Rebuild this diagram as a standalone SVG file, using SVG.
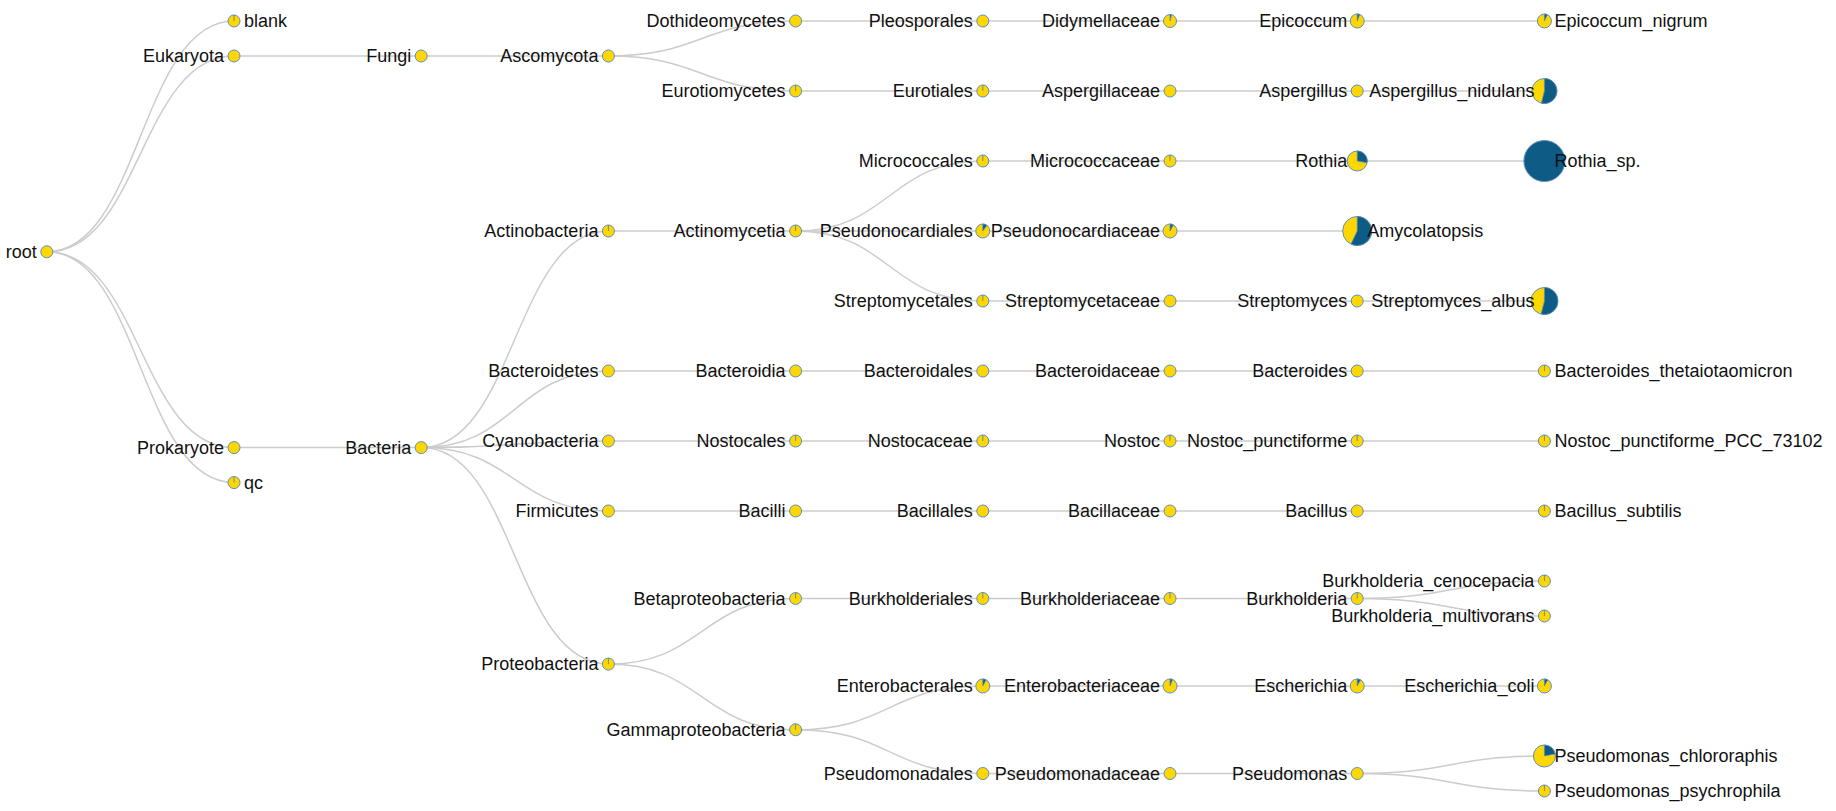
<svg xmlns="http://www.w3.org/2000/svg" width="1836" height="811" viewBox="0 0 1836 811">
<style>
.link{fill:none;stroke:#cccccc;stroke-width:1.5}
.node circle{fill:#FFD700;stroke:#5f8fb9;stroke-width:1}
.node circle.full{fill:#0E5B85}
.slice{fill:#0E5B85;stroke:#5f8fb9;stroke-width:0.8}
.tick{fill:none;stroke:#4a7fae;stroke-width:0.8}
text{font-family:"Liberation Sans",Arial,sans-serif;font-size:18px;fill:#111}
text.l{text-anchor:end}
text.r{text-anchor:start}
</style>
<rect width="1836" height="811" fill="#ffffff"/>
<g id="links">
<path class="link" d="M46.8,251.8C140.4,251.8 140.4,21 234,21"/>
<path class="link" d="M46.8,251.8C140.4,251.8 140.4,56 234,56"/>
<path class="link" d="M46.8,251.8C140.4,251.8 140.4,447.6 234,447.6"/>
<path class="link" d="M46.8,251.8C140.4,251.8 140.4,482.6 234,482.6"/>
<path class="link" d="M234,56H421.2"/>
<path class="link" d="M421.2,56H608.4"/>
<path class="link" d="M608.4,56C702,56 702,21 795.6,21"/>
<path class="link" d="M608.4,56C702,56 702,91 795.6,91"/>
<path class="link" d="M795.6,21H982.8"/>
<path class="link" d="M982.8,21H1170"/>
<path class="link" d="M1170,21H1357.2"/>
<path class="link" d="M1357.2,21H1544.4"/>
<path class="link" d="M795.6,91H982.8"/>
<path class="link" d="M982.8,91H1170"/>
<path class="link" d="M1170,91H1357.2"/>
<path class="link" d="M1357.2,91H1544.4"/>
<path class="link" d="M234,447.6H421.2"/>
<path class="link" d="M421.2,447.6C514.8,447.6 514.8,231 608.4,231"/>
<path class="link" d="M421.2,447.6C514.8,447.6 514.8,371 608.4,371"/>
<path class="link" d="M421.2,447.6C514.8,447.6 514.8,441 608.4,441"/>
<path class="link" d="M421.2,447.6C514.8,447.6 514.8,511 608.4,511"/>
<path class="link" d="M421.2,447.6C514.8,447.6 514.8,664.1 608.4,664.1"/>
<path class="link" d="M608.4,231H795.6"/>
<path class="link" d="M795.6,231C889.2,231 889.2,161 982.8,161"/>
<path class="link" d="M795.6,231H982.8"/>
<path class="link" d="M795.6,231C889.2,231 889.2,301 982.8,301"/>
<path class="link" d="M982.8,161H1170"/>
<path class="link" d="M1170,161H1357.2"/>
<path class="link" d="M1357.2,161H1544.4"/>
<path class="link" d="M982.8,231H1170"/>
<path class="link" d="M1170,231H1357.2"/>
<path class="link" d="M982.8,301H1170"/>
<path class="link" d="M1170,301H1357.2"/>
<path class="link" d="M1357.2,301H1544.4"/>
<path class="link" d="M608.4,371H795.6"/>
<path class="link" d="M795.6,371H982.8"/>
<path class="link" d="M982.8,371H1170"/>
<path class="link" d="M1170,371H1357.2"/>
<path class="link" d="M1357.2,371H1544.4"/>
<path class="link" d="M608.4,441H795.6"/>
<path class="link" d="M795.6,441H982.8"/>
<path class="link" d="M982.8,441H1170"/>
<path class="link" d="M1170,441H1357.2"/>
<path class="link" d="M1357.2,441H1544.4"/>
<path class="link" d="M608.4,511H795.6"/>
<path class="link" d="M795.6,511H982.8"/>
<path class="link" d="M982.8,511H1170"/>
<path class="link" d="M1170,511H1357.2"/>
<path class="link" d="M1357.2,511H1544.4"/>
<path class="link" d="M608.4,664.1C702,664.1 702,598.5 795.6,598.5"/>
<path class="link" d="M608.4,664.1C702,664.1 702,729.75 795.6,729.75"/>
<path class="link" d="M795.6,598.5H982.8"/>
<path class="link" d="M982.8,598.5H1170"/>
<path class="link" d="M1170,598.5H1357.2"/>
<path class="link" d="M1357.2,598.5C1450.8,598.5 1450.8,581 1544.4,581"/>
<path class="link" d="M1357.2,598.5C1450.8,598.5 1450.8,616 1544.4,616"/>
<path class="link" d="M795.6,729.75C889.2,729.75 889.2,686 982.8,686"/>
<path class="link" d="M795.6,729.75C889.2,729.75 889.2,773.5 982.8,773.5"/>
<path class="link" d="M982.8,686H1170"/>
<path class="link" d="M1170,686H1357.2"/>
<path class="link" d="M1357.2,686H1544.4"/>
<path class="link" d="M982.8,773.5H1170"/>
<path class="link" d="M1170,773.5H1357.2"/>
<path class="link" d="M1357.2,773.5C1450.8,773.5 1450.8,756 1544.4,756"/>
<path class="link" d="M1357.2,773.5C1450.8,773.5 1450.8,791 1544.4,791"/>
</g>
<g id="nodes">
<g id="n-root" class="node" transform="translate(46.8,251.8)"><circle r="6"/><text class="l" x="-10" y="6">root</text></g>
<g id="n-blank" class="node" transform="translate(234,21)"><circle r="6"/><path class="tick" d="M0,0V-6"/><text class="r" x="10" y="6">blank</text></g>
<g id="n-Eukaryota" class="node" transform="translate(234,56)"><circle r="6"/><text class="l" x="-10" y="6">Eukaryota</text></g>
<g id="n-Prokaryote" class="node" transform="translate(234,447.6)"><circle r="6"/><text class="l" x="-10" y="6">Prokaryote</text></g>
<g id="n-qc" class="node" transform="translate(234,482.6)"><circle r="6"/><path class="tick" d="M0,0V-6"/><text class="r" x="10" y="6">qc</text></g>
<g id="n-Fungi" class="node" transform="translate(421.2,56)"><circle r="6"/><text class="l" x="-10" y="6">Fungi</text></g>
<g id="n-Bacteria" class="node" transform="translate(421.2,447.6)"><circle r="6"/><text class="l" x="-10" y="6">Bacteria</text></g>
<g id="n-Ascomycota" class="node" transform="translate(608.4,56)"><circle r="6"/><text class="l" x="-10" y="6">Ascomycota</text></g>
<g id="n-Actinobacteria" class="node" transform="translate(608.4,231)"><circle r="6"/><path class="tick" d="M0,0V-6"/><text class="l" x="-10" y="6">Actinobacteria</text></g>
<g id="n-Bacteroidetes" class="node" transform="translate(608.4,371)"><circle r="6"/><text class="l" x="-10" y="6">Bacteroidetes</text></g>
<g id="n-Cyanobacteria" class="node" transform="translate(608.4,441)"><circle r="6"/><text class="l" x="-10" y="6">Cyanobacteria</text></g>
<g id="n-Firmicutes" class="node" transform="translate(608.4,511)"><circle r="6"/><text class="l" x="-10" y="6">Firmicutes</text></g>
<g id="n-Proteobacteria" class="node" transform="translate(608.4,664.1)"><circle r="6"/><path class="tick" d="M0,0V-6"/><text class="l" x="-10" y="6">Proteobacteria</text></g>
<g id="n-Dothideomycetes" class="node" transform="translate(795.6,21)"><circle r="6"/><text class="l" x="-10" y="6">Dothideomycetes</text></g>
<g id="n-Eurotiomycetes" class="node" transform="translate(795.6,91)"><circle r="6"/><path class="tick" d="M0,0V-6"/><text class="l" x="-10" y="6">Eurotiomycetes</text></g>
<g id="n-Actinomycetia" class="node" transform="translate(795.6,231)"><circle r="6"/><path class="tick" d="M0,0V-6"/><text class="l" x="-10" y="6">Actinomycetia</text></g>
<g id="n-Bacteroidia" class="node" transform="translate(795.6,371)"><circle r="6"/><text class="l" x="-10" y="6">Bacteroidia</text></g>
<g id="n-Nostocales" class="node" transform="translate(795.6,441)"><circle r="6"/><path class="tick" d="M0,0V-6"/><text class="l" x="-10" y="6">Nostocales</text></g>
<g id="n-Bacilli" class="node" transform="translate(795.6,511)"><circle r="6"/><text class="l" x="-10" y="6">Bacilli</text></g>
<g id="n-Betaproteobacteria" class="node" transform="translate(795.6,598.5)"><circle r="6"/><path class="tick" d="M0,0V-6"/><text class="l" x="-10" y="6">Betaproteobacteria</text></g>
<g id="n-Gammaproteobacteria" class="node" transform="translate(795.6,729.75)"><circle r="6"/><path class="tick" d="M0,0V-6"/><text class="l" x="-10" y="6">Gammaproteobacteria</text></g>
<g id="n-Pleosporales" class="node" transform="translate(982.8,21)"><circle r="6"/><text class="l" x="-10" y="6">Pleosporales</text></g>
<g id="n-Eurotiales" class="node" transform="translate(982.8,91)"><circle r="6"/><path class="tick" d="M0,0V-6"/><text class="l" x="-10" y="6">Eurotiales</text></g>
<g id="n-Micrococcales" class="node" transform="translate(982.8,161)"><circle r="6"/><path class="tick" d="M0,0V-6"/><text class="l" x="-10" y="6">Micrococcales</text></g>
<g id="n-Pseudonocardiales" class="node" transform="translate(982.8,231)"><circle r="7"/><path class="slice" d="M0,0V-7A7,7 0 0 1 4.12,-5.66Z"/><text class="l" x="-10" y="6">Pseudonocardiales</text></g>
<g id="n-Streptomycetales" class="node" transform="translate(982.8,301)"><circle r="6"/><path class="tick" d="M0,0V-6"/><text class="l" x="-10" y="6">Streptomycetales</text></g>
<g id="n-Bacteroidales" class="node" transform="translate(982.8,371)"><circle r="6"/><text class="l" x="-10" y="6">Bacteroidales</text></g>
<g id="n-Nostocaceae" class="node" transform="translate(982.8,441)"><circle r="6"/><path class="tick" d="M0,0V-6"/><text class="l" x="-10" y="6">Nostocaceae</text></g>
<g id="n-Bacillales" class="node" transform="translate(982.8,511)"><circle r="6"/><text class="l" x="-10" y="6">Bacillales</text></g>
<g id="n-Burkholderiales" class="node" transform="translate(982.8,598.5)"><circle r="6"/><path class="tick" d="M0,0V-6"/><text class="l" x="-10" y="6">Burkholderiales</text></g>
<g id="n-Enterobacterales" class="node" transform="translate(982.8,686)"><circle r="7"/><path class="slice" d="M0,0V-7A7,7 0 0 1 3.37,-6.13Z"/><text class="l" x="-10" y="6">Enterobacterales</text></g>
<g id="n-Pseudomonadales" class="node" transform="translate(982.8,773.5)"><circle r="6"/><text class="l" x="-10" y="6">Pseudomonadales</text></g>
<g id="n-Didymellaceae" class="node" transform="translate(1170,21)"><circle r="6.5"/><path class="slice" d="M0,0V-6.5A6.5,6.5 0 0 1 1.62,-6.3Z"/><text class="l" x="-10" y="6">Didymellaceae</text></g>
<g id="n-Aspergillaceae" class="node" transform="translate(1170,91)"><circle r="6"/><text class="l" x="-10" y="6">Aspergillaceae</text></g>
<g id="n-Micrococcaceae" class="node" transform="translate(1170,161)"><circle r="6"/><path class="tick" d="M0,0V-6"/><text class="l" x="-10" y="6">Micrococcaceae</text></g>
<g id="n-Pseudonocardiaceae" class="node" transform="translate(1170,231)"><circle r="7"/><path class="slice" d="M0,0V-7A7,7 0 0 1 3.37,-6.13Z"/><text class="l" x="-10" y="6">Pseudonocardiaceae</text></g>
<g id="n-Streptomycetaceae" class="node" transform="translate(1170,301)"><circle r="6"/><text class="l" x="-10" y="6">Streptomycetaceae</text></g>
<g id="n-Bacteroidaceae" class="node" transform="translate(1170,371)"><circle r="6"/><text class="l" x="-10" y="6">Bacteroidaceae</text></g>
<g id="n-Nostoc" class="node" transform="translate(1170,441)"><circle r="6"/><path class="tick" d="M0,0V-6"/><text class="l" x="-10" y="6">Nostoc</text></g>
<g id="n-Bacillaceae" class="node" transform="translate(1170,511)"><circle r="6"/><text class="l" x="-10" y="6">Bacillaceae</text></g>
<g id="n-Burkholderiaceae" class="node" transform="translate(1170,598.5)"><circle r="6"/><path class="tick" d="M0,0V-6"/><text class="l" x="-10" y="6">Burkholderiaceae</text></g>
<g id="n-Enterobacteriaceae" class="node" transform="translate(1170,686)"><circle r="7"/><path class="slice" d="M0,0V-7A7,7 0 0 1 2.58,-6.51Z"/><text class="l" x="-10" y="6">Enterobacteriaceae</text></g>
<g id="n-Pseudomonadaceae" class="node" transform="translate(1170,773.5)"><circle r="6"/><text class="l" x="-10" y="6">Pseudomonadaceae</text></g>
<g id="n-Epicoccum" class="node" transform="translate(1357.2,21)"><circle r="7"/><path class="slice" d="M0,0V-7A7,7 0 0 1 2.58,-6.51Z"/><text class="l" x="-10" y="6">Epicoccum</text></g>
<g id="n-Aspergillus" class="node" transform="translate(1357.2,91)"><circle r="6"/><text class="l" x="-10" y="6">Aspergillus</text></g>
<g id="n-Rothia" class="node" transform="translate(1357.2,161)"><circle r="10"/><path class="slice" d="M0,0V-10A10,10 0 0 1 9.82,1.87Z"/><text class="l" x="-10" y="6">Rothia</text></g>
<g id="n-Amycolatopsis" class="node" transform="translate(1357.2,231)"><circle r="14.5"/><path class="slice" d="M0,0V-14.5A14.5,14.5 0 1 1 -6.17,13.12Z"/><text class="r" x="10" y="6">Amycolatopsis</text></g>
<g id="n-Streptomyces" class="node" transform="translate(1357.2,301)"><circle r="6"/><text class="l" x="-10" y="6">Streptomyces</text></g>
<g id="n-Bacteroides" class="node" transform="translate(1357.2,371)"><circle r="6"/><text class="l" x="-10" y="6">Bacteroides</text></g>
<g id="n-Nostoc_punctiforme" class="node" transform="translate(1357.2,441)"><circle r="6"/><path class="tick" d="M0,0V-6"/><text class="l" x="-10" y="6">Nostoc_punctiforme</text></g>
<g id="n-Bacillus" class="node" transform="translate(1357.2,511)"><circle r="6"/><text class="l" x="-10" y="6">Bacillus</text></g>
<g id="n-Burkholderia" class="node" transform="translate(1357.2,598.5)"><circle r="6"/><path class="tick" d="M0,0V-6"/><text class="l" x="-10" y="6">Burkholderia</text></g>
<g id="n-Escherichia" class="node" transform="translate(1357.2,686)"><circle r="7"/><path class="slice" d="M0,0V-7A7,7 0 0 1 3.37,-6.13Z"/><text class="l" x="-10" y="6">Escherichia</text></g>
<g id="n-Pseudomonas" class="node" transform="translate(1357.2,773.5)"><circle r="6"/><text class="l" x="-10" y="6">Pseudomonas</text></g>
<g id="n-Epicoccum_nigrum" class="node" transform="translate(1544.4,21)"><circle r="7"/><path class="slice" d="M0,0V-7A7,7 0 0 1 2.98,-6.34Z"/><text class="r" x="10" y="6">Epicoccum_nigrum</text></g>
<g id="n-Aspergillus_nidulans" class="node" transform="translate(1544.4,91)"><circle r="12.5"/><path class="slice" d="M0,0V-12.5A12.5,12.5 0 1 1 -3.02,12.13Z"/><text class="l" x="-10" y="6">Aspergillus_nidulans</text></g>
<g id="n-Rothia_sp" class="node" transform="translate(1544.4,161)"><circle class="full" r="20.5"/><text class="r" x="10" y="6">Rothia_sp.</text></g>
<g id="n-Streptomyces_albus" class="node" transform="translate(1544.4,301)"><circle r="13.5"/><path class="slice" d="M0,0V-13.5A13.5,13.5 0 1 1 -3.27,13.1Z"/><text class="l" x="-10" y="6">Streptomyces_albus</text></g>
<g id="n-Bacteroides_thetaiotaomicron" class="node" transform="translate(1544.4,371)"><circle r="6"/><path class="tick" d="M0,0V-6"/><text class="r" x="10" y="6">Bacteroides_thetaiotaomicron</text></g>
<g id="n-Nostoc_punctiforme_PCC_73102" class="node" transform="translate(1544.4,441)"><circle r="6"/><path class="tick" d="M0,0V-6"/><text class="r" x="10" y="6">Nostoc_punctiforme_PCC_73102</text></g>
<g id="n-Bacillus_subtilis" class="node" transform="translate(1544.4,511)"><circle r="6"/><path class="tick" d="M0,0V-6"/><text class="r" x="10" y="6">Bacillus_subtilis</text></g>
<g id="n-Burkholderia_cenocepacia" class="node" transform="translate(1544.4,581)"><circle r="6"/><path class="tick" d="M0,0V-6"/><text class="l" x="-10" y="6">Burkholderia_cenocepacia</text></g>
<g id="n-Burkholderia_multivorans" class="node" transform="translate(1544.4,616)"><circle r="6"/><path class="tick" d="M0,0V-6"/><text class="l" x="-10" y="6">Burkholderia_multivorans</text></g>
<g id="n-Escherichia_coli" class="node" transform="translate(1544.4,686)"><circle r="7"/><path class="slice" d="M0,0V-7A7,7 0 0 1 3.37,-6.13Z"/><text class="l" x="-10" y="6">Escherichia_coli</text></g>
<g id="n-Pseudomonas_chlororaphis" class="node" transform="translate(1544.4,756)"><circle r="11"/><path class="slice" d="M0,0V-11A11,11 0 0 1 10.8,-2.1Z"/><text class="r" x="10" y="6">Pseudomonas_chlororaphis</text></g>
<g id="n-Pseudomonas_psychrophila" class="node" transform="translate(1544.4,791)"><circle r="6"/><path class="tick" d="M0,0V-6"/><text class="r" x="10" y="6">Pseudomonas_psychrophila</text></g>
</g>
</svg>
